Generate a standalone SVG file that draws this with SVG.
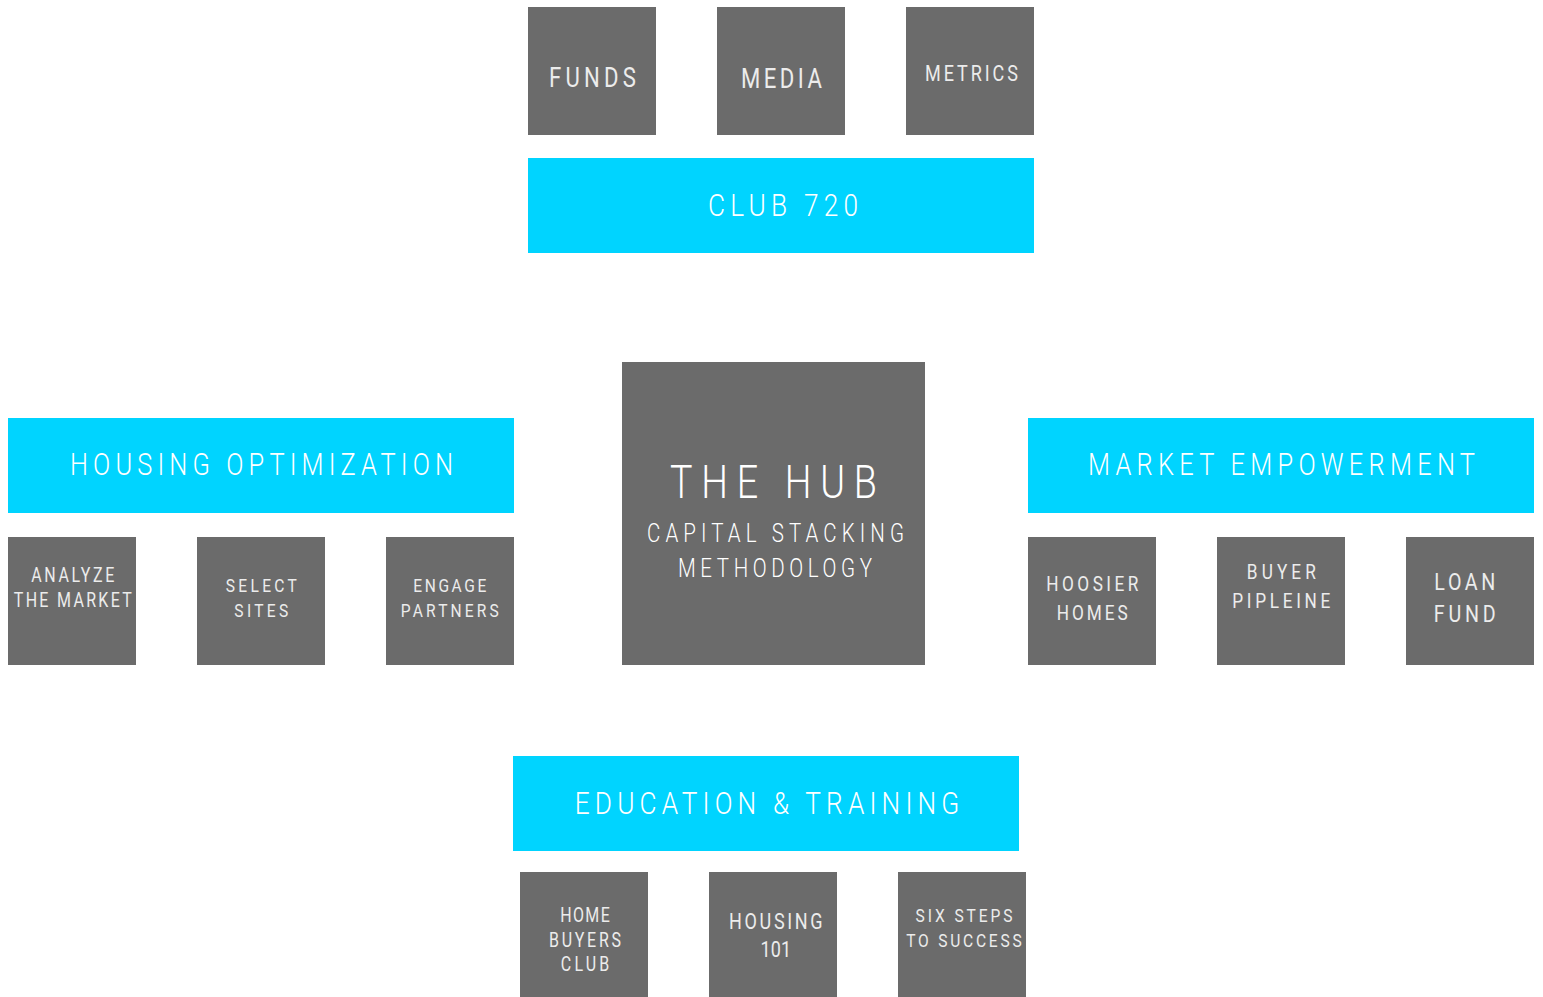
<svg xmlns="http://www.w3.org/2000/svg" width="1543" height="997" viewBox="0 0 1543 997">
<style>
.g{fill:#6b6b6b}
.c{fill:#00d4ff}
text{font-family:Roboto,"Liberation Sans",sans-serif;font-weight:300;text-anchor:middle}
.tw{fill:#ffffff}
.tg{fill:#ececec;font-weight:400}
</style>
<rect width="1543" height="997" fill="#ffffff"/>
<g id="connectors"></g>
<g id="funds"><rect class="g" x="528" y="7" width="128" height="128"/><text class="tg" transform="matrix(0.82 0 0 1 592.5 0)" x="0" y="87" font-size="27" textLength="106.1" lengthAdjust="spacing">FUNDS</text></g>
<g id="media"><rect class="g" x="717" y="7" width="128" height="128"/><text class="tg" transform="matrix(0.82 0 0 1 781.5 0)" x="0" y="88" font-size="27" textLength="98.8" lengthAdjust="spacing">MEDIA</text></g>
<g id="metrics"><rect class="g" x="906" y="7" width="128" height="128"/><text class="tg" transform="matrix(0.82 0 0 1 971.5 0)" x="0" y="81" font-size="22" textLength="113.4" lengthAdjust="spacing">METRICS</text></g>
<g id="club720"><rect class="c" x="528" y="158" width="506" height="95"/><text class="tw" transform="matrix(0.82 0 0 1 783 0)" x="0" y="216.5" font-size="32" textLength="182.9" lengthAdjust="spacing">CLUB 720</text></g>
<g id="housing-optimization"><rect class="c" x="8" y="418" width="506" height="95"/><text class="tw" transform="matrix(0.82 0 0 1 261.5 0)" x="0" y="475.5" font-size="31" textLength="467.1" lengthAdjust="spacing">HOUSING OPTIMIZATION</text></g>
<g id="analyze"><rect class="g" x="8" y="537" width="128" height="128"/><text class="tg" transform="matrix(0.82 0 0 1 72.8 0)" font-size="19.5"><tspan x="0" y="582.3" textLength="101.2" lengthAdjust="spacing">ANALYZE</tspan><tspan x="0" y="607.3" textLength="143.9" lengthAdjust="spacing">THE MARKET</tspan></text></g>
<g id="select"><rect class="g" x="197" y="537" width="128" height="128"/><text class="tg" transform="matrix(0.82 0 0 1 261.3 0)" font-size="19"><tspan x="0" y="591.7" textLength="86.6" lengthAdjust="spacing">SELECT</tspan><tspan x="0" y="616.7" textLength="65.9" lengthAdjust="spacing">SITES</tspan></text></g>
<g id="engage"><rect class="g" x="386" y="537" width="128" height="128"/><text class="tg" transform="matrix(0.82 0 0 1 449.8 0)" font-size="19"><tspan x="0" y="591.7" textLength="89" lengthAdjust="spacing">ENGAGE</tspan><tspan x="0" y="616.7" textLength="119.5" lengthAdjust="spacing">PARTNERS</tspan></text></g>
<g id="hub"><rect class="g" x="622" y="362" width="303" height="303"/><text class="tw" transform="matrix(0.82 0 0 1 774.5 0)" font-size="25"><tspan x="-1.2" y="498.3" font-size="46" textLength="252.4" lengthAdjust="spacing">THE HUB</tspan><tspan x="1.2" y="541.7" textLength="313.4" lengthAdjust="spacing">CAPITAL STACKING</tspan><tspan x="0.6" y="576.7" textLength="236.6" lengthAdjust="spacing">METHODOLOGY</tspan></text></g>
<g id="market-empowerment"><rect class="c" x="1028" y="418" width="506" height="95"/><text class="tw" transform="matrix(0.82 0 0 1 1281.5 0)" x="0" y="475.5" font-size="31" textLength="472" lengthAdjust="spacing">MARKET EMPOWERMENT</text></g>
<g id="hoosier"><rect class="g" x="1028" y="537" width="128" height="128"/><text class="tg" transform="matrix(0.82 0 0 1 1092.3 0)" font-size="21"><tspan x="0" y="591" textLength="112.2" lengthAdjust="spacing">HOOSIER</tspan><tspan x="0" y="620" textLength="86.6" lengthAdjust="spacing">HOMES</tspan></text></g>
<g id="buyer"><rect class="g" x="1217" y="537" width="128" height="128"/><text class="tg" transform="matrix(0.82 0 0 1 1281.3 0)" font-size="21"><tspan x="0" y="579" textLength="84.1" lengthAdjust="spacing">BUYER</tspan><tspan x="0" y="608" textLength="119.5" lengthAdjust="spacing">PIPLEINE</tspan></text></g>
<g id="loan"><rect class="g" x="1406" y="537" width="128" height="128"/><text class="tg" transform="matrix(0.82 0 0 1 1464.8 0)" font-size="24"><tspan x="0" y="590" textLength="74.4" lengthAdjust="spacing">LOAN</tspan><tspan x="0" y="621.7" textLength="75.6" lengthAdjust="spacing">FUND</tspan></text></g>
<g id="education"><rect class="c" x="513" y="756" width="506" height="95"/><text class="tw" transform="matrix(0.82 0 0 1 767 0)" x="0" y="814" font-size="32" textLength="469" lengthAdjust="spacing">EDUCATION &amp; TRAINING</text></g>
<g id="home-buyers"><rect class="g" x="520" y="872" width="128" height="125"/><text class="tg" transform="matrix(0.82 0 0 1 585 0)" font-size="19.5"><tspan x="0" y="921.7" textLength="60.6" lengthAdjust="spacing">HOME</tspan><tspan x="0" y="946.7" textLength="87.8" lengthAdjust="spacing">BUYERS</tspan><tspan x="0" y="971" textLength="59" lengthAdjust="spacing">CLUB</tspan></text></g>
<g id="housing101"><rect class="g" x="709" y="872" width="128" height="125"/><text class="tg" transform="matrix(0.82 0 0 1 775.8 0)" font-size="22"><tspan x="0" y="929" textLength="114.1" lengthAdjust="spacing">HOUSING</tspan><tspan x="0" y="957.3" textLength="37.2" lengthAdjust="spacing">101</tspan></text></g>
<g id="six-steps"><rect class="g" x="898" y="872" width="128" height="125"/><text class="tg" transform="matrix(0.82 0 0 1 964 0)" font-size="19"><tspan x="0" y="921.7" textLength="118.3" lengthAdjust="spacing">SIX STEPS</tspan><tspan x="0" y="946.7" textLength="140.8" lengthAdjust="spacing">TO SUCCESS</tspan></text></g>
</svg>
